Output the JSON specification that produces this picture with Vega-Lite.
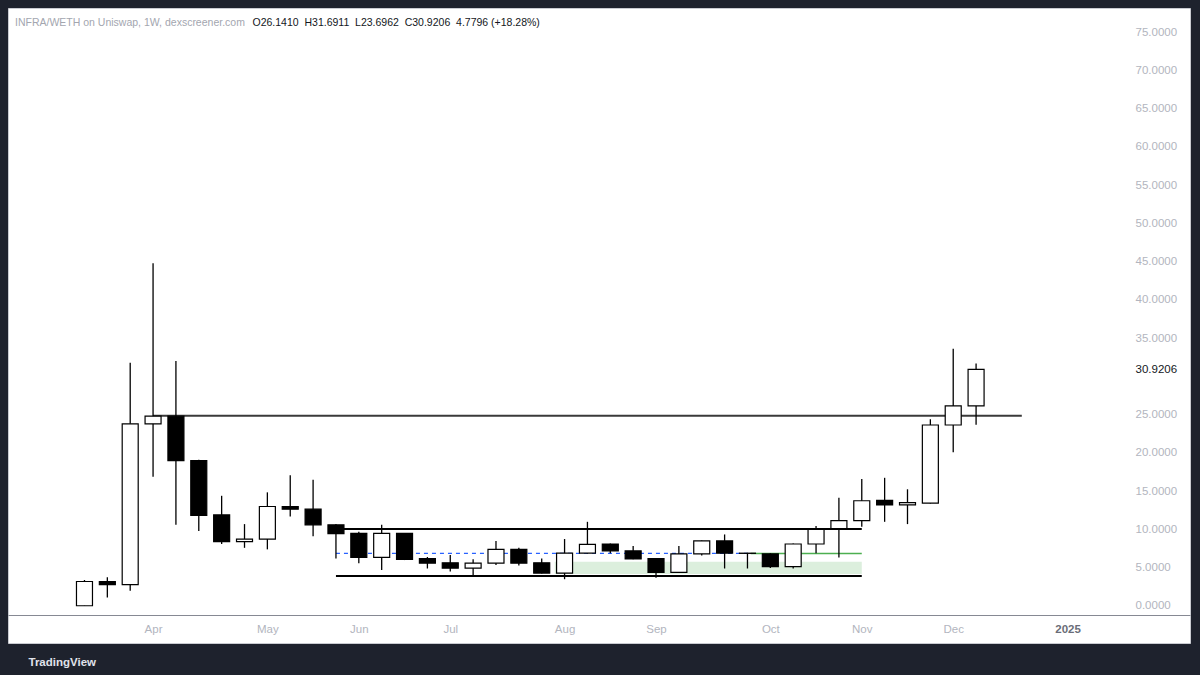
{
  "$schema": "https://vega.github.io/schema/vega-lite/v6.json",
  "width": 1182,
  "height": 635,
  "autosize": {"type": "none"},
  "padding": {"left": 8, "top": 8, "right": 10, "bottom": 32},
  "background": "#1e222d",
  "config": {
    "view": {"fill": "#ffffff", "stroke": "#c9cbd1", "strokeWidth": 1},
    "font": "Liberation Sans",
    "axisX": {
      "orient": "bottom",
      "offset": -28,
      "labelExpr": "utcmonth(datum.value) === 0 ? utcFormat(datum.value, '%Y') : utcFormat(datum.value, '%b')",
      "ticks": false,
      "tickSize": 0,
      "grid": false,
      "labelPadding": 8,
      "labelFont": "Liberation Sans",
      "labelFontSize": 11.5,
      "labelColor": {"condition": {"test": "utcmonth(datum.value) === 0", "value": "#6a6d78"}, "value": "#b2b5be"},
      "labelFontWeight": {"condition": {"test": "utcmonth(datum.value) === 0", "value": "bold"}, "value": "normal"},
      "labelFlush": false,
      "labelOverlap": false,
      "domainColor": "#868993",
      "domainWidth": 1,
      "titleFont": "Liberation Sans",
      "titleFontSize": 11.5,
      "titleFontWeight": "bold",
      "titleColor": "#e0e3eb",
      "titleAnchor": "start",
      "titleAlign": "left",
      "titleBaseline": "alphabetic",
      "titleX": 20,
      "titleY": 50
    },
    "axisY": {
      "orient": "right",
      "offset": -62,
      "format": ".4f",
      "domain": false,
      "ticks": false,
      "tickSize": 0,
      "grid": false,
      "labelPadding": 7,
      "labelFont": "Liberation Sans",
      "labelFontSize": 11.5,
      "labelOverlap": false,
      "labelColor": {"condition": {"test": "datum.value > 30.5 && datum.value < 31", "value": "#131722"}, "value": "#b2b5be"},
      "titleFont": "Liberation Sans",
      "titleFontSize": 10.5,
      "titleFontWeight": "normal",
      "titleColor": "#131722",
      "titleAngle": 0,
      "titleAlign": "left",
      "titleBaseline": "alphabetic",
      "titleX": -876,
      "titleY": 17.5
    }
  },
  "title": {
    "text": "INFRA/WETH on Uniswap, 1W, dexscreener.com",
    "anchor": "start",
    "frame": "group",
    "offset": -20,
    "dx": 7,
    "font": "Liberation Sans",
    "fontSize": 10.5,
    "fontWeight": "normal",
    "color": "#a3a6af"
  },
  "datasets": {
    "candles": [
      {"date": "2024-03-11", "open": 0.03, "high": 3.4, "low": 0.0, "close": 3.2},
      {"date": "2024-03-18", "open": 3.2, "high": 3.75, "low": 1.1, "close": 2.8},
      {"date": "2024-03-25", "open": 2.8, "high": 31.8, "low": 2.0, "close": 23.8},
      {"date": "2024-04-01", "open": 23.8, "high": 44.8, "low": 16.9, "close": 24.8},
      {"date": "2024-04-08", "open": 24.8, "high": 32.0, "low": 10.6, "close": 19.0},
      {"date": "2024-04-15", "open": 19.0, "high": 19.1, "low": 9.8, "close": 11.85},
      {"date": "2024-04-22", "open": 11.9, "high": 14.4, "low": 8.1, "close": 8.4},
      {"date": "2024-04-29", "open": 8.4, "high": 10.7, "low": 7.6, "close": 8.75},
      {"date": "2024-05-06", "open": 8.75, "high": 14.85, "low": 7.4, "close": 13.0},
      {"date": "2024-05-13", "open": 13.0, "high": 17.1, "low": 11.7, "close": 12.65},
      {"date": "2024-05-20", "open": 12.65, "high": 16.5, "low": 9.1, "close": 10.6},
      {"date": "2024-05-27", "open": 10.6, "high": 10.7, "low": 6.2, "close": 9.45},
      {"date": "2024-06-03", "open": 9.5, "high": 9.7, "low": 5.6, "close": 6.35},
      {"date": "2024-06-10", "open": 6.35, "high": 10.6, "low": 4.7, "close": 9.5},
      {"date": "2024-06-17", "open": 9.5, "high": 9.5, "low": 6.0, "close": 6.1},
      {"date": "2024-06-24", "open": 6.2, "high": 6.4, "low": 4.9, "close": 5.6},
      {"date": "2024-07-01", "open": 5.65, "high": 6.65, "low": 4.5, "close": 4.95},
      {"date": "2024-07-08", "open": 4.95, "high": 6.1, "low": 3.9, "close": 5.6},
      {"date": "2024-07-15", "open": 5.6, "high": 8.5, "low": 5.35, "close": 7.4},
      {"date": "2024-07-22", "open": 7.4, "high": 7.6, "low": 5.3, "close": 5.6},
      {"date": "2024-07-29", "open": 5.65, "high": 6.2, "low": 4.25, "close": 4.3},
      {"date": "2024-08-05", "open": 4.3, "high": 8.75, "low": 3.5, "close": 6.9},
      {"date": "2024-08-12", "open": 6.9, "high": 11.0, "low": 6.85, "close": 8.05},
      {"date": "2024-08-19", "open": 8.1, "high": 8.15, "low": 6.9, "close": 7.2},
      {"date": "2024-08-26", "open": 7.2, "high": 7.85, "low": 6.1, "close": 6.15},
      {"date": "2024-09-02", "open": 6.2, "high": 6.25, "low": 3.7, "close": 4.4},
      {"date": "2024-09-09", "open": 4.4, "high": 7.85, "low": 4.35, "close": 6.8},
      {"date": "2024-09-16", "open": 6.8, "high": 8.55, "low": 6.6, "close": 8.5},
      {"date": "2024-09-23", "open": 8.5, "high": 9.35, "low": 4.9, "close": 6.9},
      {"date": "2024-09-30", "open": 6.9, "high": 6.95, "low": 4.9, "close": 6.88},
      {"date": "2024-10-07", "open": 6.8, "high": 6.9, "low": 4.95, "close": 5.15},
      {"date": "2024-10-14", "open": 5.15, "high": 8.15, "low": 4.9, "close": 8.1},
      {"date": "2024-10-21", "open": 8.1, "high": 10.45, "low": 6.9, "close": 10.0},
      {"date": "2024-10-28", "open": 10.1, "high": 14.15, "low": 6.35, "close": 11.15},
      {"date": "2024-11-04", "open": 11.15, "high": 16.6, "low": 10.35, "close": 13.75},
      {"date": "2024-11-11", "open": 13.8, "high": 16.75, "low": 11.0, "close": 13.2},
      {"date": "2024-11-18", "open": 13.2, "high": 15.25, "low": 10.7, "close": 13.5},
      {"date": "2024-11-25", "open": 13.45, "high": 24.4, "low": 13.4, "close": 23.65},
      {"date": "2024-12-02", "open": 23.65, "high": 33.6, "low": 20.1, "close": 26.141},
      {"date": "2024-12-09", "open": 26.141, "high": 31.6911, "low": 23.6962, "close": 30.9206}
    ],
    "zone": [
      {"start": "2024-08-02", "end": "2024-11-04", "low": 4.18, "high": 5.79}
    ],
    "levels": [
      {"name": "resistance", "start": "2024-04-01", "end": "2024-12-23", "price": 24.87},
      {"name": "range top", "start": "2024-05-27", "end": "2024-11-04", "price": 10.06},
      {"name": "range bottom", "start": "2024-05-27", "end": "2024-11-04", "price": 3.92}
    ],
    "midline": [
      {"start": "2024-05-27", "end": "2024-09-30", "price": 6.88}
    ],
    "greenline": [
      {"start": "2024-10-01", "end": "2024-11-04", "price": 6.86}
    ]
  },
  "layer": [
    {
      "data": {"name": "zone"},
      "mark": {"type": "rect", "fill": "#dcefdd"},
      "encoding": {
        "x": {"field": "start", "type": "temporal", "title": "TradingView",
          "scale": {"type": "utc", "padding": 0, "domain": [{"year": 2024, "month": 2, "date": 16, "hours": 14, "utc": true}, {"year": 2025, "month": 2, "date": 12, "hours": 12, "utc": true}]},
          "axis": {"values": [{"year": 2024, "month": 4, "date": 1, "utc": true}, {"year": 2024, "month": 5, "date": 6, "utc": true}, {"year": 2024, "month": 6, "date": 3, "utc": true}, {"year": 2024, "month": 7, "date": 1, "utc": true}, {"year": 2024, "month": 8, "date": 5, "utc": true}, {"year": 2024, "month": 9, "date": 2, "utc": true}, {"year": 2024, "month": 10, "date": 7, "utc": true}, {"year": 2024, "month": 11, "date": 4, "utc": true}, {"year": 2024, "month": 12, "date": 2, "utc": true}, {"year": 2025, "month": 1, "date": 6, "utc": true}]}},
        "x2": {"field": "end"},
        "y": {"field": "low", "type": "quantitative", "title": "O26.1410\u00a0\u00a0H31.6911\u00a0\u00a0L23.6962\u00a0\u00a0C30.9206\u00a0\u00a04.7796\u00a0(+18.28%)",
          "scale": {"domain": [-4.835, 78.137], "nice": false, "zero": false},
          "axis": {"values": [0, 5, 10, 15, 20, 25, 30.9206, 35, 40, 45, 50, 55, 60, 65, 70, 75]}},
        "y2": {"field": "high"}
      }
    },
    {
      "data": {"name": "levels"},
      "mark": {"type": "rule", "strokeWidth": 2},
      "encoding": {
        "x": {"field": "start", "type": "temporal", "title": "TradingView",
          "scale": {"type": "utc", "padding": 0, "domain": [{"year": 2024, "month": 2, "date": 16, "hours": 14, "utc": true}, {"year": 2025, "month": 2, "date": 12, "hours": 12, "utc": true}]},
          "axis": {"values": [{"year": 2024, "month": 4, "date": 1, "utc": true}, {"year": 2024, "month": 5, "date": 6, "utc": true}, {"year": 2024, "month": 6, "date": 3, "utc": true}, {"year": 2024, "month": 7, "date": 1, "utc": true}, {"year": 2024, "month": 8, "date": 5, "utc": true}, {"year": 2024, "month": 9, "date": 2, "utc": true}, {"year": 2024, "month": 10, "date": 7, "utc": true}, {"year": 2024, "month": 11, "date": 4, "utc": true}, {"year": 2024, "month": 12, "date": 2, "utc": true}, {"year": 2025, "month": 1, "date": 6, "utc": true}]}},
        "x2": {"field": "end"},
        "y": {"field": "price", "type": "quantitative", "title": "O26.1410\u00a0\u00a0H31.6911\u00a0\u00a0L23.6962\u00a0\u00a0C30.9206\u00a0\u00a04.7796\u00a0(+18.28%)",
          "scale": {"domain": [-4.835, 78.137], "nice": false, "zero": false},
          "axis": {"values": [0, 5, 10, 15, 20, 25, 30.9206, 35, 40, 45, 50, 55, 60, 65, 70, 75]}},
        "color": {"condition": {"test": "datum.name === 'resistance'", "value": "#3a3a3a"}, "value": "#000000"},
        "strokeWidth": {"condition": {"test": "datum.name === 'resistance'", "value": 1.5}, "value": 2}
      }
    },
    {
      "data": {"name": "midline"},
      "mark": {"type": "rule", "strokeWidth": 1.2, "color": "#2962ff", "strokeDash": [4, 4]},
      "encoding": {
        "x": {"field": "start", "type": "temporal", "title": "TradingView",
          "scale": {"type": "utc", "padding": 0, "domain": [{"year": 2024, "month": 2, "date": 16, "hours": 14, "utc": true}, {"year": 2025, "month": 2, "date": 12, "hours": 12, "utc": true}]},
          "axis": {"values": [{"year": 2024, "month": 4, "date": 1, "utc": true}, {"year": 2024, "month": 5, "date": 6, "utc": true}, {"year": 2024, "month": 6, "date": 3, "utc": true}, {"year": 2024, "month": 7, "date": 1, "utc": true}, {"year": 2024, "month": 8, "date": 5, "utc": true}, {"year": 2024, "month": 9, "date": 2, "utc": true}, {"year": 2024, "month": 10, "date": 7, "utc": true}, {"year": 2024, "month": 11, "date": 4, "utc": true}, {"year": 2024, "month": 12, "date": 2, "utc": true}, {"year": 2025, "month": 1, "date": 6, "utc": true}]}},
        "x2": {"field": "end"},
        "y": {"field": "price", "type": "quantitative", "title": "O26.1410\u00a0\u00a0H31.6911\u00a0\u00a0L23.6962\u00a0\u00a0C30.9206\u00a0\u00a04.7796\u00a0(+18.28%)",
          "scale": {"domain": [-4.835, 78.137], "nice": false, "zero": false},
          "axis": {"values": [0, 5, 10, 15, 20, 25, 30.9206, 35, 40, 45, 50, 55, 60, 65, 70, 75]}}
      }
    },
    {
      "data": {"name": "greenline"},
      "mark": {"type": "rule", "strokeWidth": 1.5, "color": "#4caf50"},
      "encoding": {
        "x": {"field": "start", "type": "temporal", "title": "TradingView",
          "scale": {"type": "utc", "padding": 0, "domain": [{"year": 2024, "month": 2, "date": 16, "hours": 14, "utc": true}, {"year": 2025, "month": 2, "date": 12, "hours": 12, "utc": true}]},
          "axis": {"values": [{"year": 2024, "month": 4, "date": 1, "utc": true}, {"year": 2024, "month": 5, "date": 6, "utc": true}, {"year": 2024, "month": 6, "date": 3, "utc": true}, {"year": 2024, "month": 7, "date": 1, "utc": true}, {"year": 2024, "month": 8, "date": 5, "utc": true}, {"year": 2024, "month": 9, "date": 2, "utc": true}, {"year": 2024, "month": 10, "date": 7, "utc": true}, {"year": 2024, "month": 11, "date": 4, "utc": true}, {"year": 2024, "month": 12, "date": 2, "utc": true}, {"year": 2025, "month": 1, "date": 6, "utc": true}]}},
        "x2": {"field": "end"},
        "y": {"field": "price", "type": "quantitative", "title": "O26.1410\u00a0\u00a0H31.6911\u00a0\u00a0L23.6962\u00a0\u00a0C30.9206\u00a0\u00a04.7796\u00a0(+18.28%)",
          "scale": {"domain": [-4.835, 78.137], "nice": false, "zero": false},
          "axis": {"values": [0, 5, 10, 15, 20, 25, 30.9206, 35, 40, 45, 50, 55, 60, 65, 70, 75]}}
      }
    },
    {
      "data": {"name": "candles"},
      "mark": {"type": "rule", "strokeWidth": 1.3, "color": "#000000"},
      "encoding": {
        "x": {"field": "date", "type": "temporal", "title": "TradingView",
          "scale": {"type": "utc", "padding": 0, "domain": [{"year": 2024, "month": 2, "date": 16, "hours": 14, "utc": true}, {"year": 2025, "month": 2, "date": 12, "hours": 12, "utc": true}]},
          "axis": {"values": [{"year": 2024, "month": 4, "date": 1, "utc": true}, {"year": 2024, "month": 5, "date": 6, "utc": true}, {"year": 2024, "month": 6, "date": 3, "utc": true}, {"year": 2024, "month": 7, "date": 1, "utc": true}, {"year": 2024, "month": 8, "date": 5, "utc": true}, {"year": 2024, "month": 9, "date": 2, "utc": true}, {"year": 2024, "month": 10, "date": 7, "utc": true}, {"year": 2024, "month": 11, "date": 4, "utc": true}, {"year": 2024, "month": 12, "date": 2, "utc": true}, {"year": 2025, "month": 1, "date": 6, "utc": true}]}},
        "y": {"field": "low", "type": "quantitative", "title": "O26.1410\u00a0\u00a0H31.6911\u00a0\u00a0L23.6962\u00a0\u00a0C30.9206\u00a0\u00a04.7796\u00a0(+18.28%)",
          "scale": {"domain": [-4.835, 78.137], "nice": false, "zero": false},
          "axis": {"values": [0, 5, 10, 15, 20, 25, 30.9206, 35, 40, 45, 50, 55, 60, 65, 70, 75]}},
        "y2": {"field": "high"}
      }
    },
    {
      "data": {"name": "candles"},
      "mark": {"type": "bar", "size": 16, "stroke": "#000000", "strokeWidth": 1.2},
      "encoding": {
        "x": {"field": "date", "type": "temporal", "title": "TradingView",
          "scale": {"type": "utc", "padding": 0, "domain": [{"year": 2024, "month": 2, "date": 16, "hours": 14, "utc": true}, {"year": 2025, "month": 2, "date": 12, "hours": 12, "utc": true}]},
          "axis": {"values": [{"year": 2024, "month": 4, "date": 1, "utc": true}, {"year": 2024, "month": 5, "date": 6, "utc": true}, {"year": 2024, "month": 6, "date": 3, "utc": true}, {"year": 2024, "month": 7, "date": 1, "utc": true}, {"year": 2024, "month": 8, "date": 5, "utc": true}, {"year": 2024, "month": 9, "date": 2, "utc": true}, {"year": 2024, "month": 10, "date": 7, "utc": true}, {"year": 2024, "month": 11, "date": 4, "utc": true}, {"year": 2024, "month": 12, "date": 2, "utc": true}, {"year": 2025, "month": 1, "date": 6, "utc": true}]}},
        "y": {"field": "open", "type": "quantitative", "title": "O26.1410\u00a0\u00a0H31.6911\u00a0\u00a0L23.6962\u00a0\u00a0C30.9206\u00a0\u00a04.7796\u00a0(+18.28%)",
          "scale": {"domain": [-4.835, 78.137], "nice": false, "zero": false},
          "axis": {"values": [0, 5, 10, 15, 20, 25, 30.9206, 35, 40, 45, 50, 55, 60, 65, 70, 75]}},
        "y2": {"field": "close"},
        "fill": {"condition": {"test": "datum.close < datum.open", "value": "#000000"}, "value": "#ffffff"}
      }
    }
  ]
}
